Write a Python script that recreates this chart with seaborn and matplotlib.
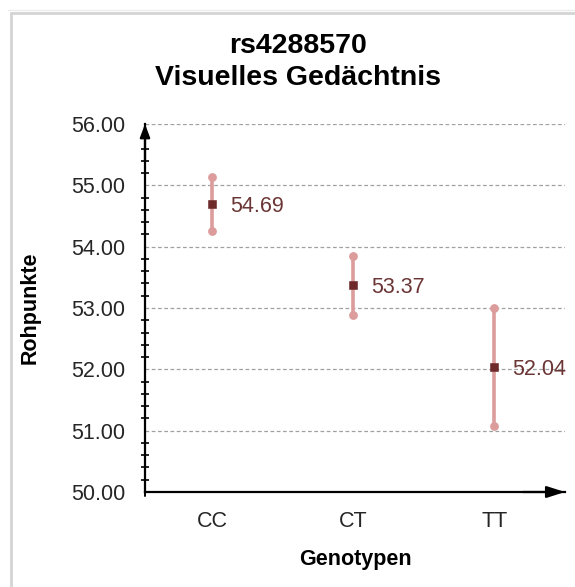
import matplotlib
matplotlib.use("Agg")
import matplotlib.pyplot as plt
import seaborn as sns
import pandas as pd
from matplotlib.lines import Line2D
from matplotlib.ticker import MultipleLocator, FormatStrFormatter

# data
genotypes = ["CC", "CT", "TT"]
means = [54.69, 53.37, 52.04]
upper = [55.13, 53.84, 53.00]
lower = [54.25, 52.89, 51.08]
value_labels = ["54.69", "53.37", "52.04"]
title_text = "rs4288570\nVisuelles Gedächtnis"
xlabel_text = "Genotypen"
ylabel_text = "Rohpunkte"

df = pd.DataFrame({"Genotyp": genotypes, "Mittelwert": means,
                   "oben": upper, "unten": lower, "label": value_labels})

sns.set_style("white")
plt.rcParams["font.family"] = ["Liberation Sans", "DejaVu Sans"]

W, H = 575, 587
fig = plt.figure(figsize=(W / 100, H / 100), dpi=100)
ax = fig.add_axes([145 / W, 1 - 492 / H, (565 - 145) / W, (492 - 124) / H])

err_col = "#dc9c9c"
mark_col = "#6e2a2a"
val_col = "#6b3535"
tick_col = "#262626"

# error bars
for i, r in df.iterrows():
    ax.plot([i, i], [r["unten"], r["oben"]], color=err_col, lw=2.6,
            solid_capstyle="butt", zorder=3)
ax.scatter(range(len(df)), df["oben"], s=40, color=err_col, zorder=3, linewidths=0)
ax.scatter(range(len(df)), df["unten"], s=40, color=err_col, zorder=3, linewidths=0)

sns.scatterplot(data=df, x="Genotyp", y="Mittelwert", marker="s", s=26,
                color=mark_col, edgecolor=mark_col, ax=ax, zorder=4, legend=False)

for i, r in df.iterrows():
    ax.annotate(r["label"], (i, r["Mittelwert"]), xytext=(13, 0),
                textcoords="offset points", ha="left", va="center_baseline",
                fontsize=15.5, color=val_col)

ax.set_xlim(-0.475, 2.5)
ax.set_ylim(50, 56)
ax.yaxis.set_major_locator(MultipleLocator(1))
ax.yaxis.set_minor_locator(MultipleLocator(0.2))
ax.yaxis.set_major_formatter(FormatStrFormatter("%.2f"))
ax.grid(axis="y", which="major", color="#a0a0a0", ls=(0, (3, 2)), lw=0.9)
ax.grid(axis="x", visible=False)
ax.set_axisbelow(True)

for s in ["top", "right"]:
    ax.spines[s].set_visible(False)
for s in ["left", "bottom"]:
    ax.spines[s].set_color("black")
    ax.spines[s].set_linewidth(1.6)

ax.tick_params(axis="y", which="major", direction="out", length=8, width=1.4,
               color="black", labelsize=15.5, labelcolor=tick_col, pad=6)
ax.tick_params(axis="y", which="minor", direction="inout", length=6, width=1.2,
               color="black", left=True)
ax.tick_params(axis="x", which="both", length=0, labelsize=15.5,
               labelcolor=tick_col, pad=14)

ax.set_xlabel(xlabel_text, fontsize=15.5, fontweight="bold", labelpad=12,
              color="black")
ax.set_ylabel(ylabel_text, fontsize=15.5, fontweight="bold", labelpad=22,
              color="black")
fig.text(298 / W, 1 - 62 / H, title_text, fontsize=20.5, fontweight="bold",
         ha="center", va="center", linespacing=1.3, color="black")

# axis arrows
ax.annotate("", xy=(0, 1.0), xytext=(0, 0.9), xycoords="axes fraction",
            arrowprops=dict(arrowstyle="-|>,head_length=0.8,head_width=0.3",
                            color="black", lw=1.6, shrinkA=0, shrinkB=0))
ax.annotate("", xy=(1.0, 0), xytext=(0.9, 0), xycoords="axes fraction",
            arrowprops=dict(arrowstyle="-|>,head_length=1.1,head_width=0.35",
                            color="black", lw=1.6, shrinkA=0, shrinkB=0))
# small downward tick at origin
ax.plot([0, 0], [0, -0.012], transform=ax.transAxes, color="black", lw=1.4,
        clip_on=False)

# spreadsheet-like frame
fc = "#d4d4d4"
fig.add_artist(Line2D([11 / W, 11 / W], [0, 1 - 13 / H], color=fc, lw=2,
                      transform=fig.transFigure))
fig.add_artist(Line2D([11 / W, 1], [1 - 13 / H, 1 - 13 / H], color=fc, lw=2,
                      transform=fig.transFigure))
fig.add_artist(Line2D([8 / W, 1], [1 - 10 / H, 1 - 10 / H], color="#ececec", lw=1,
                      transform=fig.transFigure))

fig.savefig("out.png", dpi=100)
